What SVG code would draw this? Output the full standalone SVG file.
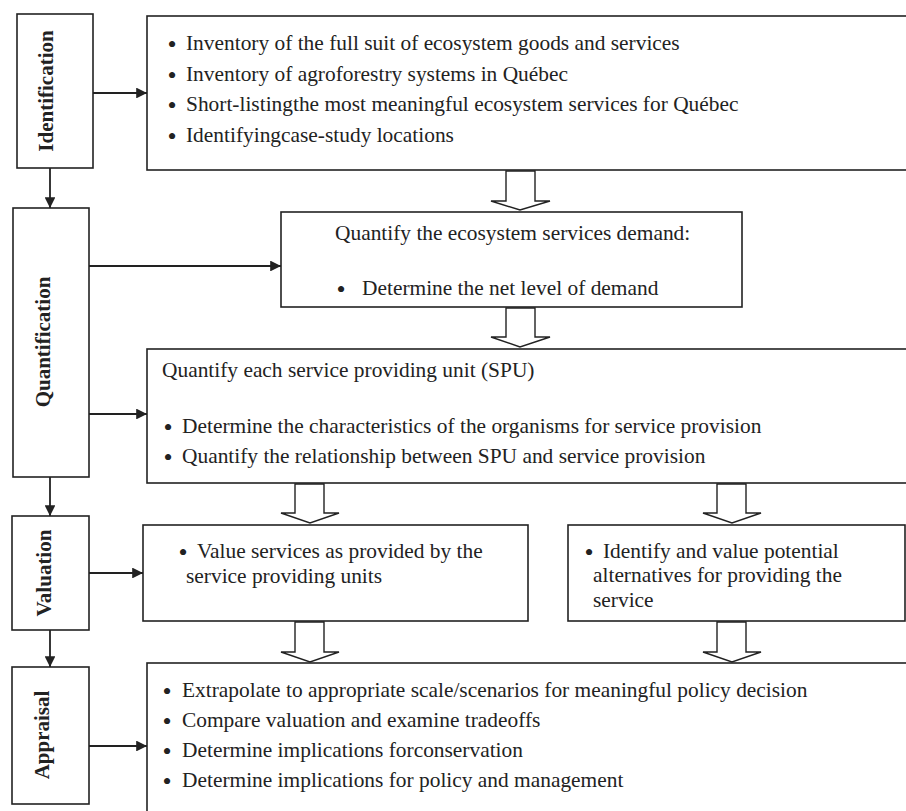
<svg xmlns="http://www.w3.org/2000/svg" width="906" height="811" viewBox="0 0 906 811">
<style>
.box{fill:#fff;stroke:#222;stroke-width:1.6}
.t{font-family:"Liberation Serif","Times New Roman",serif;font-size:21.4px;fill:#222}
.b{font-family:"Liberation Serif","Times New Roman",serif;font-size:26px;fill:#222;text-anchor:middle}
.lbl{font-family:"Liberation Serif","Times New Roman",serif;font-size:21px;font-weight:bold;fill:#222;text-anchor:middle}
.ln{stroke:#222;stroke-width:1.8;fill:none}
.blk{fill:#fff;stroke:#222;stroke-width:1.4;stroke-linejoin:miter}
</style>
<defs>
<marker id="ah" viewBox="0 0 10 10" refX="10" refY="5" markerWidth="6" markerHeight="6" orient="auto" markerUnits="strokeWidth">
<path d="M0,0 L10,5 L0,10 z" fill="#222"/>
</marker>
</defs>
<rect width="906" height="811" fill="#fff"/>

<g id="connectors">
<line class="ln" x1="93" y1="93" x2="147" y2="93" marker-end="url(#ah)"/>
<line class="ln" x1="50" y1="168" x2="50" y2="208" marker-end="url(#ah)"/>
<line class="ln" x1="89" y1="266" x2="281" y2="266" marker-end="url(#ah)"/>
<line class="ln" x1="89" y1="414" x2="147" y2="414" marker-end="url(#ah)"/>
<line class="ln" x1="50" y1="477" x2="50" y2="516" marker-end="url(#ah)"/>
<line class="ln" x1="89" y1="573" x2="143" y2="573" marker-end="url(#ah)"/>
<line class="ln" x1="50" y1="630" x2="50" y2="667" marker-end="url(#ah)"/>
<line class="ln" x1="89" y1="746" x2="147" y2="746" marker-end="url(#ah)"/>
<path class="blk" d="M506,171 H535 V201 H550 L520,210 L491,201 H506 Z"/>
<path class="blk" d="M506,308 H535 V337 H550 L520,347 L491,337 H506 Z"/>
<path class="blk" d="M295,484 H324 V513 H339 L310,523 L281,513 H295 Z"/>
<path class="blk" d="M717,484 H746 V513 H761 L732,523 L703,513 H717 Z"/>
<path class="blk" d="M295,622 H324 V652 H339 L310,662 L281,652 H295 Z"/>
<path class="blk" d="M717,622 H746 V652 H761 L732,662 L703,652 H717 Z"/>
</g>

<g id="identification">
<rect class="box" x="17" y="14" width="76" height="154"/>
<text class="lbl" transform="translate(53,91) rotate(-90)">Identification</text>
</g>
<g id="quantification">
<rect class="box" x="13" y="208" width="76" height="269"/>
<text class="lbl" transform="translate(50,342) rotate(-90)">Quantification</text>
</g>
<g id="valuation">
<rect class="box" x="12" y="516" width="77" height="114"/>
<text class="lbl" transform="translate(51,573) rotate(-90)">Valuation</text>
</g>
<g id="appraisal">
<rect class="box" x="12" y="667" width="77" height="137"/>
<text class="lbl" transform="translate(49,735) rotate(-90)">Appraisal</text>
</g>

<g id="identification-detail">
<rect class="box" x="147" y="16" width="770" height="154"/>
<text class="b" x="172" y="53">•</text>
<text class="t" x="186" y="50">Inventory of the full suit of ecosystem goods and services</text>
<text class="b" x="172" y="84">•</text>
<text class="t" x="186" y="81">Inventory of agroforestry systems in Québec</text>
<text class="b" x="172" y="114">•</text>
<text class="t" x="186" y="111">Short-listingthe most meaningful ecosystem services for Québec</text>
<text class="b" x="172" y="145">•</text>
<text class="t" x="186" y="142">Identifyingcase-study locations</text>
</g>

<g id="demand">
<rect class="box" x="281" y="212" width="461" height="95"/>
<text class="t" x="335" y="240">Quantify the ecosystem services demand:</text>
<text class="b" x="341" y="298">•</text>
<text class="t" x="362" y="295">Determine the net level of demand</text>
</g>

<g id="spu">
<rect class="box" x="147" y="349" width="770" height="134"/>
<text class="t" x="162" y="377">Quantify each service providing unit (SPU)</text>
<text class="b" x="168" y="436">•</text>
<text class="t" x="182" y="433">Determine the characteristics of the organisms for service provision</text>
<text class="b" x="168" y="466">•</text>
<text class="t" x="182" y="463">Quantify the relationship between SPU and service provision</text>
</g>

<g id="value-spu">
<rect class="box" x="143" y="525" width="385" height="96"/>
<text class="b" x="183" y="561">•</text>
<text class="t" x="197" y="558">Value services as provided by the</text>
<text class="t" x="186" y="583">service providing units</text>
</g>

<g id="value-alternatives">
<rect class="box" x="568" y="525" width="337" height="96"/>
<text class="b" x="589" y="561">•</text>
<text class="t" x="603" y="558">Identify and value potential</text>
<text class="t" x="593" y="582">alternatives for providing the</text>
<text class="t" x="593" y="607">service</text>
</g>

<g id="appraisal-detail">
<rect class="box" x="147" y="663" width="770" height="160"/>
<text class="b" x="167" y="700">•</text>
<text class="t" x="182" y="697">Extrapolate to appropriate scale/scenarios for meaningful policy decision</text>
<text class="b" x="167" y="730">•</text>
<text class="t" x="182" y="727">Compare valuation and examine tradeoffs</text>
<text class="b" x="167" y="760">•</text>
<text class="t" x="182" y="757">Determine implications forconservation</text>
<text class="b" x="167" y="790">•</text>
<text class="t" x="182" y="787">Determine implications for policy and management</text>
</g>
</svg>
